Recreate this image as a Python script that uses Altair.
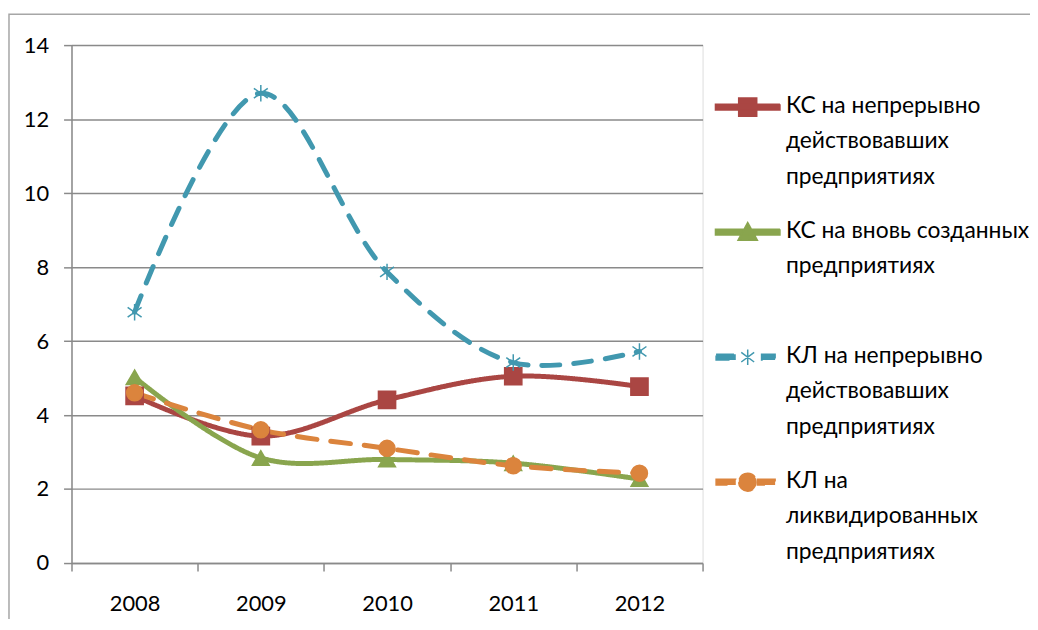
import altair as alt
import pandas as pd

years = ["2008", "2009", "2010", "2011", "2012"]
series = [
    "КС на непрерывно действовавших предприятиях",
    "КС на вновь созданных предприятиях",
    "КЛ на непрерывно действовавших предприятиях",
    "КЛ на ликвидированных предприятиях",
]
label_lines = [
    ["КС на непрерывно", "действовавших", "предприятиях"],
    ["КС на вновь созданных", "предприятиях", ""],
    ["КЛ на непрерывно", "действовавших", "предприятиях"],
    ["КЛ на", "ликвидированных", "предприятиях"],
]
ks_cont = [4.52, 3.43, 4.41, 5.05, 4.77]
ks_new = [5.02, 2.84, 2.8, 2.7, 2.27]
kl_cont = [6.78, 12.7, 7.87, 5.42, 5.72]
kl_liq = [4.6, 3.6, 3.1, 2.63, 2.43]
values = [ks_cont, ks_new, kl_cont, kl_liq]

colors = ["#AA4643", "#89A54E", "#4198AF", "#DB843D"]
dashes = [[1, 0], [1, 0], [18, 14], [20, 14]]
marker_paths = [
    "square",
    "triangle-up",
    "M0,-1V1M-0.85,-0.6L0.85,0.6M-0.85,0.6L0.85,-0.6",
    "circle",
]
marker_sizes = [300, 260, 330, 330]
legend_paths = [
    "M-1,-0.09H1V0.09H-1Z M-0.28,-0.28H0.28V0.28H-0.28Z",
    "M-1,-0.09H1V0.09H-1Z M0,-0.3L0.3,0.25H-0.3Z",
    "M-0.98,-0.09H-0.37V0.09H-0.98Z M0.43,-0.09H0.85V0.09H0.43Z M0,-0.24V0.24M-0.2,-0.15L0.2,0.15M-0.2,0.15L0.2,-0.15",
    "M-0.98,-0.09H-0.37V0.09H-0.98Z M0.3,-0.09H0.85V0.09H0.3Z M-0.28,0A0.28,0.28 0 1,0 0.28,0A0.28,0.28 0 1,0 -0.28,0Z",
]

rows = []
for i, (s, vals) in enumerate(zip(series, values)):
    for y, v in zip(years, vals):
        rows.append({"year": y, "series": s, "idx": i, "value": v})
df = pd.DataFrame(rows)
idx_domain = list(range(len(series)))

FONT = "Lato"


def js_str(s):
    return "'" + s.replace("'", "\\'") + "'"


label_expr = "datum.label"
for s, ls in reversed(list(zip(series, label_lines))):
    arr = "[" + ",".join(js_str(t) for t in ls) + "]"
    label_expr = f"datum.label == {js_str(s)} ? {arr} : {label_expr}"
shape_expr = "'circle'"
for s, p in reversed(list(zip(series, legend_paths))):
    shape_expr = f"datum.value == {js_str(s)} ? {js_str(p)} : {shape_expr}"

x_enc = alt.X(
    "year:O",
    scale=alt.Scale(type="band", paddingInner=0, paddingOuter=0),
    bandPosition=0.5,
    axis=alt.Axis(
        title=None,
        labelAngle=0,
        tickBand="extent",
        grid=False,
        domainColor="#8A8A8A",
        domainWidth=1.5,
        tickColor="#8A8A8A",
        tickWidth=1.5,
        tickSize=8,
        labelPadding=23,
        labelFontSize=22,
        labelFont=FONT,
        labelColor="#000000",
    ),
)
y_enc = alt.Y(
    "value:Q",
    scale=alt.Scale(domain=[0, 14], nice=False),
    axis=alt.Axis(
        title=None,
        values=[0, 2, 4, 6, 8, 10, 12, 14],
        grid=True,
        gridColor="#8A8A8A",
        gridWidth=1.5,
        domainColor="#8A8A8A",
        domainWidth=1.5,
        tickColor="#8A8A8A",
        tickWidth=1.5,
        tickSize=8,
        labelPadding=15,
        labelFontSize=22,
        labelFont=FONT,
        labelColor="#000000",
    ),
)

color_enc = alt.Color(
    "series:N",
    scale=alt.Scale(domain=series, range=colors),
    sort=series,
    legend=alt.Legend(
        title=None,
        orient="none",
        legendX=648,
        legendY=29,
        padding=0,
        symbolSize=4225,
        symbolStrokeWidth=1.5,
        symbolType="M-1,-0.09H1V0.09H-1Z",
        rowPadding=10,
        labelOffset=5,
        labelLimit=500,
        labelFontSize=23,
        labelFont=FONT,
        labelColor="#000000",
        labelBaseline="top",
        labelExpr=label_expr,
    ),
)

legend_encode = {
    "labels": {"update": {"lineHeight": {"value": 35.5}, "dy": {"value": -12}}},
    "symbols": {
        "update": {
            "shape": {"signal": shape_expr},
            "fill": {"scale": "color", "field": "value"},
            "stroke": {"scale": "color", "field": "value"},
            "strokeWidth": {"value": 1.5},
            "strokeDash": {"value": [1, 0]},
            "opacity": {"value": 1},
            "fillOpacity": {"value": 1},
        }
    },
}

lines = alt.Chart(df).mark_line(
    interpolate="catmull-rom", strokeWidth=5, strokeCap="round"
).encode(
    x=x_enc,
    y=y_enc,
    color=color_enc,
    strokeDash=alt.StrokeDash("series:N", scale=alt.Scale(domain=series, range=dashes), legend=None),
)

points = alt.Chart(df).mark_point(filled=True, opacity=1, strokeWidth=1.5).encode(
    x=x_enc,
    y=y_enc,
    fill=alt.Fill("idx:O", scale=alt.Scale(domain=idx_domain, range=colors), legend=None),
    stroke=alt.Stroke("idx:O", scale=alt.Scale(domain=idx_domain, range=colors), legend=None),
    shape=alt.Shape("idx:O", scale=alt.Scale(domain=idx_domain, range=marker_paths), legend=None),
    size=alt.Size("idx:O", scale=alt.Scale(domain=idx_domain, range=marker_sizes), legend=None),
)

frame = alt.Chart(pd.DataFrame({"k": [0]})).mark_rect(
    fill=None, stroke="#A6A6A6", strokeWidth=1.5, clip=False
).encode(
    x=alt.value(-63), x2=alt.value(1000), y=alt.value(-31), y2=alt.value(620)
)

chart = alt.layer(frame, lines, points).properties(
    width=636,
    height=522,
    padding={"left": 64, "top": 35, "right": 330, "bottom": 54},
    autosize="none",
).configure_view(stroke=None).configure(font=FONT)

# Vega-Lite passes legend "encode" blocks through to Vega; Altair's schema lacks it,
# so it is added to the generated spec.
_orig_to_dict = chart.to_dict


def _patched_to_dict(*args, **kwargs):
    d = _orig_to_dict(*args, **kwargs)
    for lyr in d.get("layer", []):
        leg = lyr.get("encoding", {}).get("color", {}).get("legend")
        if isinstance(leg, dict):
            leg["encode"] = legend_encode
    return d


object.__setattr__(chart, "to_dict", _patched_to_dict)

chart.save("out.html", embed_options={"renderer": "svg", "actions": False})
